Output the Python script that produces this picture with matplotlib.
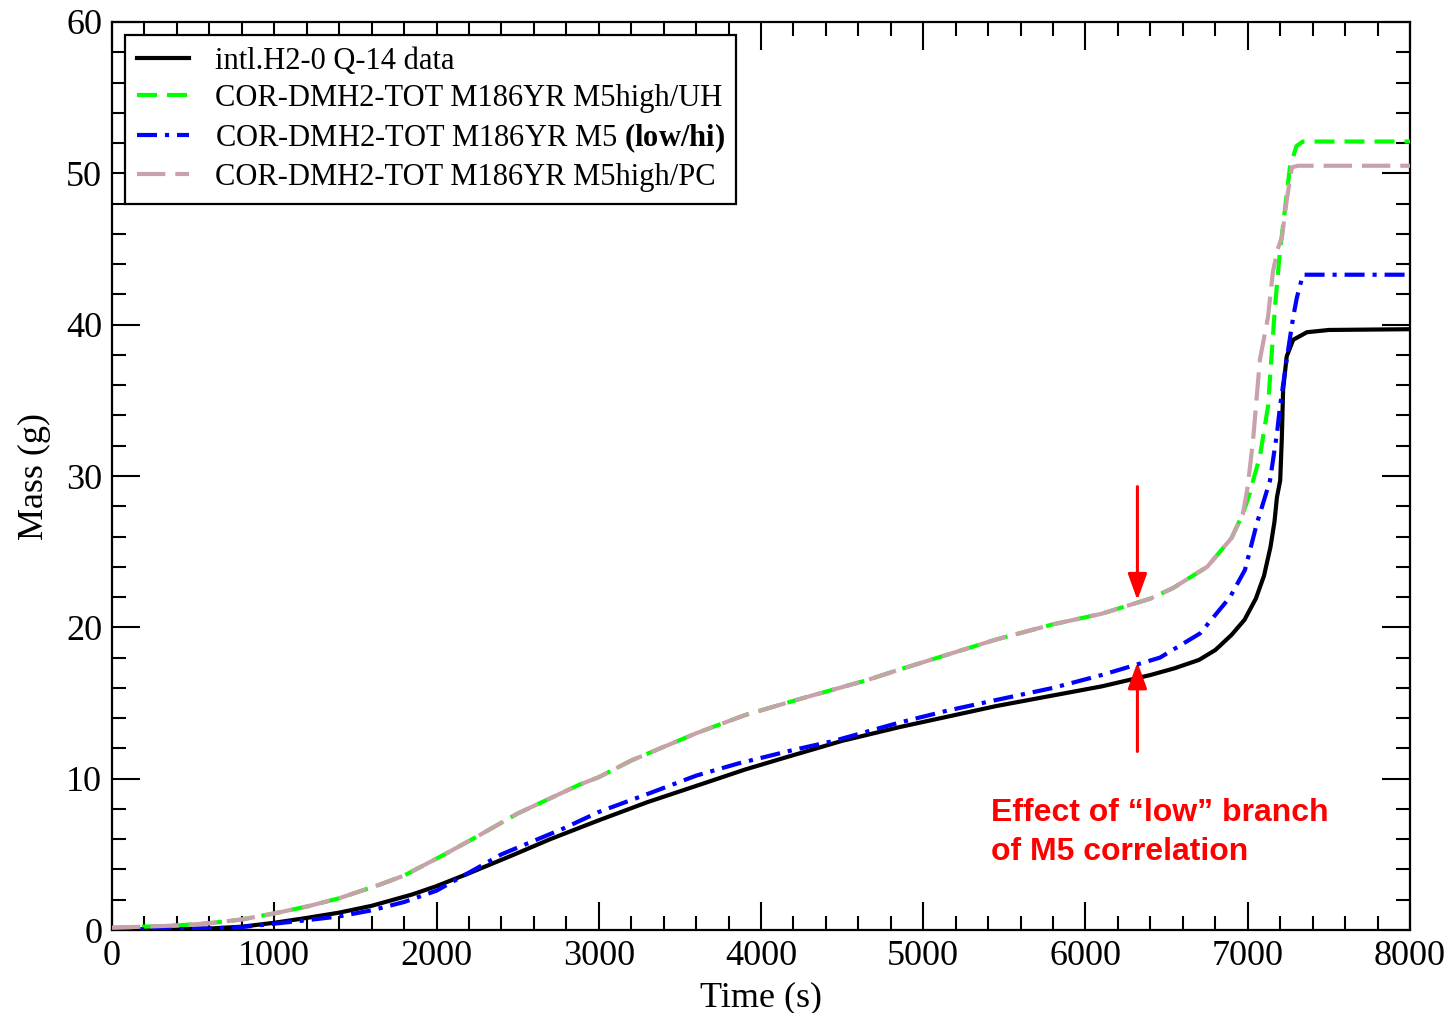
import matplotlib
matplotlib.use("Agg")
import matplotlib.pyplot as plt
from matplotlib.ticker import MultipleLocator

# ---- data (time in s, mass in g)
t_data = [0, 400, 600, 800, 1000, 1200, 1400, 1600, 1850, 2000, 2200, 2470, 2700,
          3000, 3300, 3650, 3900, 4150, 4500, 4850, 5150, 5450, 5800, 6100, 6400,
          6550, 6700, 6800, 6900, 6980, 7050, 7100, 7140, 7165, 7180, 7200, 7210,
          7218, 7240, 7280, 7365, 7500, 8000]
m_data = [0.05, 0.05, 0.1, 0.22, 0.48, 0.8, 1.15, 1.6, 2.35, 2.9, 3.75, 4.95, 6.0,
          7.25, 8.45, 9.7, 10.6, 11.4, 12.5, 13.4, 14.1, 14.8, 15.5, 16.1, 16.85,
          17.3, 17.85, 18.5, 19.5, 20.5, 21.9, 23.4, 25.3, 27.0, 28.6, 29.7, 32.5,
          35.7, 37.9, 39.0, 39.5, 39.65, 39.7]

t_uh = [0, 400, 600, 800, 1000, 1200, 1400, 1650, 1800, 2050, 2270, 2500, 2880,
        3000, 3200, 3600, 3900, 4250, 4650, 4850, 5150, 5450, 5800, 6100, 6400,
        6540, 6750, 6900, 6970, 7014, 7033, 7075, 7125, 7168, 7199, 7217, 7260,
        7300, 7340, 8000]
m_uh = [0.15, 0.3, 0.45, 0.7, 1.1, 1.55, 2.1, 3.0, 3.6, 5.0, 6.3, 7.7, 9.6,
        10.1, 11.2, 13.0, 14.2, 15.3, 16.5, 17.2, 18.2, 19.2, 20.2, 20.9, 21.9,
        22.6, 24.0, 25.9, 27.5, 28.9, 29.7, 31.3, 34.6, 41.2, 44.9, 46.5, 50.4,
        51.8, 52.1, 52.1]

t_m5 = [0, 400, 600, 800, 1000, 1200, 1400, 1600, 1800, 2000, 2268, 2400, 2780,
        3000, 3316, 3600, 3858, 4200, 4450, 4850, 5150, 5450, 5800, 6100, 6459,
        6706, 6891, 6983, 7057, 7106, 7137, 7180, 7199, 7240, 7280, 7303, 7340,
        8000]
m_m5 = [0.02, 0.05, 0.1, 0.2, 0.42, 0.65, 0.9, 1.3, 1.85, 2.6, 4.2, 5.0, 6.7,
        7.8, 9.05, 10.2, 11.0, 11.9, 12.5, 13.7, 14.5, 15.2, 16.0, 16.85, 18.0,
        19.6, 22.0, 23.8, 26.9, 28.6, 29.7, 32.8, 34.6, 37.7, 40.5, 41.8, 43.3,
        43.3]

t_pc = [0, 400, 600, 800, 1000, 1200, 1400, 1650, 1800, 2050, 2270, 2500, 2880,
        3000, 3200, 3600, 3900, 4250, 4650, 4850, 5150, 5450, 5800, 6100, 6400,
        6540, 6750, 6900, 6970, 7000, 7033, 7075, 7125, 7155, 7185, 7211, 7240,
        7272, 7310, 8000]
m_pc = [0.15, 0.3, 0.45, 0.7, 1.1, 1.55, 2.1, 3.0, 3.6, 5.0, 6.3, 7.7, 9.6,
        10.1, 11.2, 13.0, 14.2, 15.3, 16.5, 17.2, 18.2, 19.2, 20.2, 20.9, 21.9,
        22.6, 24.0, 25.9, 27.5, 29.3, 32.4, 37.7, 40.5, 43.5, 45.0, 45.8, 48.2,
        50.4, 50.5, 50.5]

labels = ["intl.H2-0 Q-14 data",
          "COR-DMH2-TOT M186YR M5high/UH",
          "COR-DMH2-TOT M186YR M5 $\\mathbf{(low/hi)}$",
          "COR-DMH2-TOT M186YR M5high/PC"]

note = "Effect of \u201clow\u201d branch\nof M5 correlation"

plt.rcParams["font.family"] = ["Liberation Serif", "DejaVu Serif"]
plt.rcParams["mathtext.fontset"] = "custom"
plt.rcParams["mathtext.rm"] = "Liberation Serif"
plt.rcParams["mathtext.bf"] = "Liberation Serif:bold"

fig = plt.figure(figsize=(14.53, 10.13), dpi=100)
ax = fig.add_axes([0.0771, 0.0819, 0.8933, 0.8964])

ax.plot(t_data, m_data, color="black", lw=3, label=labels[0], zorder=3)
ax.plot(t_uh, m_uh, color="#00ff00", lw=3, dashes=(4.8, 2.4), label=labels[1], zorder=3)
ax.plot(t_m5, m_m5, color="#0000ff", lw=3, dashes=(4.8, 1.9, 1.0, 1.9), label=labels[2], zorder=4)
ax.plot(t_pc, m_pc, color="#c9a1aa", lw=3, dashes=(6.8, 2.4), label=labels[3], zorder=5)

ax.set_xlim(0, 8000)
ax.set_ylim(0, 60)
ax.xaxis.set_major_locator(MultipleLocator(1000))
ax.xaxis.set_minor_locator(MultipleLocator(200))
ax.yaxis.set_major_locator(MultipleLocator(10))
ax.yaxis.set_minor_locator(MultipleLocator(2))
ax.tick_params(which="both", direction="in", top=True, right=True, width=1.5, labelsize=26)
ax.tick_params(which="major", length=20, pad=7)
ax.tick_params(which="minor", length=10)
for s in ax.spines.values():
    s.set_linewidth(1.6)

ax.set_xlabel("Time (s)", fontsize=26, labelpad=6)
ax.set_ylabel("Mass (g)", fontsize=26, labelpad=11)

leg = ax.legend(loc="upper left", fontsize=22, frameon=True, fancybox=False,
                edgecolor="black", framealpha=1, handlelength=1.7,
                borderaxespad=0.43, borderpad=0.38, labelspacing=0.27, handletextpad=0.85)
leg.get_frame().set_linewidth(1.6)
leg.set_zorder(10)

# red arrows + note
arrow = dict(arrowstyle="-|>,head_width=0.29,head_length=0.8", color="red", lw=2.2,
             shrinkA=0, shrinkB=0, mutation_scale=20)
ax.annotate("", xy=(6320, 21.8), xytext=(6320, 29.3), arrowprops=arrow)
ax.annotate("", xy=(6320, 17.7), xytext=(6320, 11.8), arrowprops=arrow)
ax.text(5418, 8.75, note, color="red", fontsize=23, fontweight="bold",
        family=["Liberation Sans", "DejaVu Sans"], va="top", ha="left", linespacing=1.42)

fig.savefig("out.png", dpi=100)
